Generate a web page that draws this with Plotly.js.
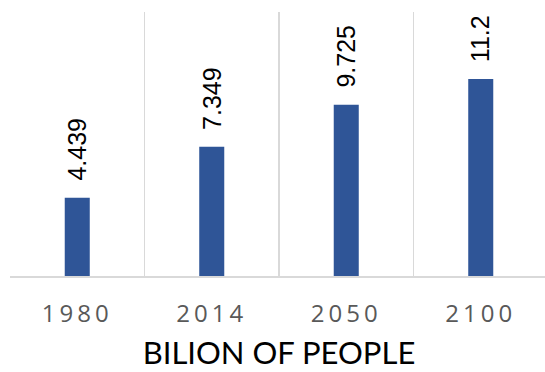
<!DOCTYPE html>
<html>
<head>
<meta charset="utf-8">
<script src="https://cdn.plot.ly/plotly-3.0.1.min.js"></script>
<style>
html,body{margin:0;padding:0;background:#fff;overflow:hidden;}
#chart{width:548px;height:372px;}
.xtick text{letter-spacing:4px;}
</style>
</head>
<body>
<div id="chart"></div>
<script>
const years = ["1980", "2014", "2050", "2100"];
const population = [4.439, 7.349, 9.725, 11.2];
const labels = ["4.439", "7.349", "9.725", "11.2"];

const trace = {
  type: "bar",
  x: years,
  y: population,
  marker: {color: "#2F5597"},
  hoverinfo: "x+y"
};

const annotations = years.map((yr, i) => ({
  x: i, y: population[i], xref: "x", yref: "y",
  text: labels[i], showarrow: false, textangle: -90,
  xanchor: "center", yanchor: "bottom", yshift: 15,
  font: {family: "Liberation Sans, Arial, sans-serif", size: 25, color: "#000000"}
}));

const layout = {
  width: 548, height: 372,
  margin: {l: 10, r: 0, t: 12, b: 96},
  paper_bgcolor: "#ffffff", plot_bgcolor: "#ffffff",
  showlegend: false,
  bargap: 0.814,
  xaxis: {
    type: "category",
    range: [-0.5, years.length - 0.5], autorange: false,
    tickson: "boundaries",
    showgrid: true, gridcolor: "#D9D9D9", gridwidth: 1.5,
    showline: true, linecolor: "#D9D9D9", linewidth: 1.5,
    ticks: "", ticklen: 0, tickangle: 0, ticklabelstandoff: 16,
    tickfont: {family: "Open Sans, sans-serif", size: 24, color: "#595959"},
    title: {text: "BILION OF PEOPLE", standoff: 14,
      font: {family: "Lato, sans-serif", size: 31, color: "#000000"}},
    zeroline: false, fixedrange: true
  },
  yaxis: {
    range: [0, 15], autorange: false, visible: false, showgrid: false, zeroline: false, fixedrange: true
  },
  annotations: annotations
};

Plotly.newPlot("chart", [trace], layout, {displayModeBar: false, staticPlot: true});
</script>
</body>
</html>
